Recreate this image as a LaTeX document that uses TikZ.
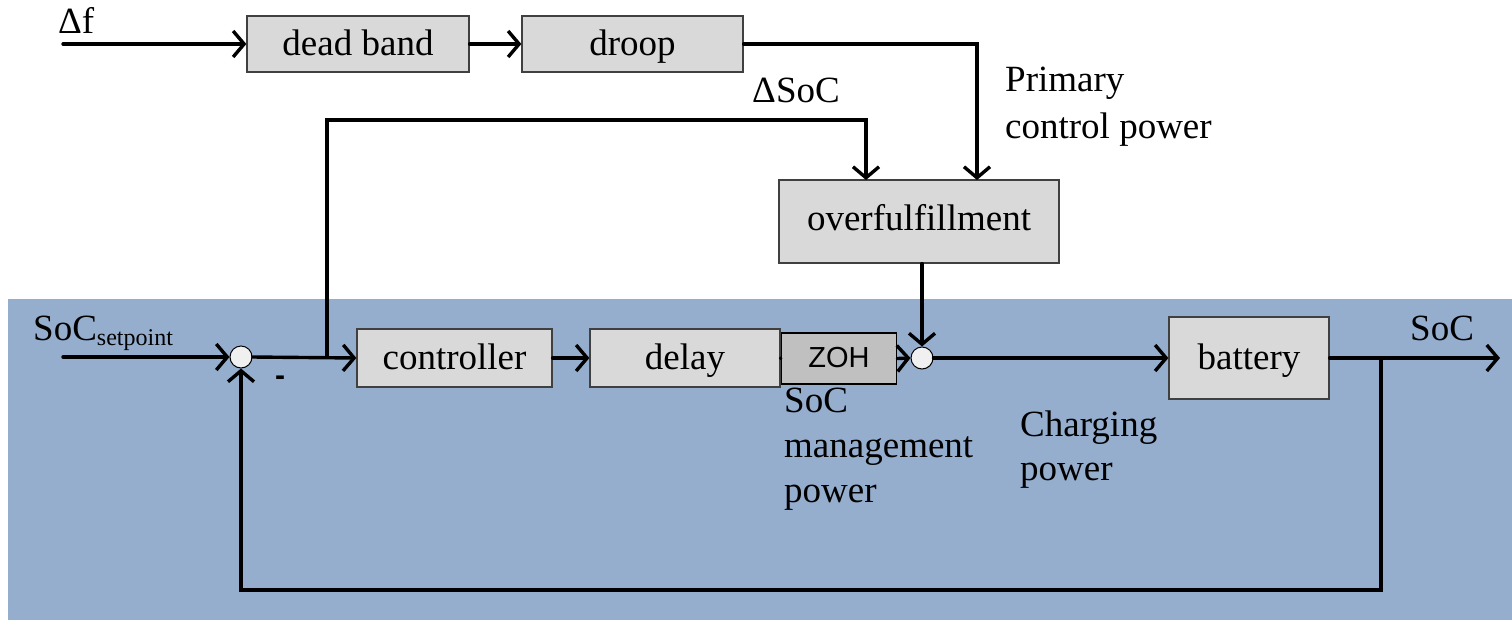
\documentclass[tikz,border=0pt]{standalone}
\usepackage{fontspec}
\setmainfont{Liberation Serif}
\newfontfamily\zohfont{Liberation Sans}
\usetikzlibrary{arrows.meta}
\definecolor{panelblue}{HTML}{95AECE}
\definecolor{boxgray}{HTML}{D9D9D9}
\definecolor{zohgray}{HTML}{C0C0C0}
\definecolor{sumwhite}{HTML}{F0F0F0}
\tikzset{
  blockbox/.style={draw=black!75, line width=1.3pt, fill=boxgray, inner sep=0pt,
    text height=25pt, text depth=2pt, font=\fontsize{37}{42}\selectfont},
  sumnode/.style={circle, draw=black, line width=1pt, fill=sumwhite, minimum size=22pt, inner sep=0pt},
  signal/.style={line width=3.4pt, line cap=round, line join=miter},
  flow/.style={signal, -{Straight Barb[length=11pt,width=26pt]}},
  lbl/.style={font=\fontsize{37}{45}\selectfont, inner sep=0pt, align=left},
}
\begin{document}
\begin{tikzpicture}[x=1pt,y=-1pt]
\useasboundingbox (0,0) rectangle (1512,622);
% lower panel
\fill[panelblue] (8,299) rectangle (1512,620);

% blocks
\node[blockbox, minimum width=222pt, minimum height=56pt] (deadband) at (358,44) {dead band};
\node[blockbox, minimum width=221pt, minimum height=56pt] (droop) at (632.5,44) {droop};
\node[blockbox, minimum width=280pt, minimum height=83pt, text depth=8pt] (overfull) at (919,221.5) {overfulfillment};
\node[blockbox, minimum width=195pt, minimum height=58pt] (controller) at (454.5,358) {controller};
\node[blockbox, minimum width=190pt, minimum height=58pt] (delay) at (685,358) {delay};
\node[draw=black, line width=1.8pt, fill=zohgray, inner sep=0pt, minimum width=115pt, minimum height=51pt,
      text height=20pt, text depth=3pt,
      font=\zohfont\fontsize{29}{32}\selectfont] (zoh) at (839,358.5) {ZOH};
\node[blockbox, minimum width=160pt, minimum height=82pt] (battery) at (1249,358) {battery};
\node[sumnode] (sum1) at (241,357) {};
\node[sumnode] (sum2) at (922,358) {};

% free ends and bends
\coordinate (fin) at (63,44);
\coordinate (spin) at (63,357);
\coordinate (socout) at (1500,358);
\coordinate (tap) at (327,357);
\coordinate (fbtap) at (1381,358);

% frequency path
\draw[flow] (fin) -- (deadband.west);
\draw[flow] (deadband.east) -- (droop.west);
\draw[flow] (droop.east) -| (977,180);
\draw[flow] (tap) |- (866,120) -- (866,180);
\draw[flow] (sum2.north |- overfull.south) -- (sum2.north);

% main loop
\draw[flow] (spin) -- (sum1.west);
\draw[flow] (sum1.east) -- (controller.west);
\draw[flow] (controller.east) -- (delay.west);
\draw[signal] (delay.east) -- (zoh.west);
\draw[flow] (zoh.east) -- (sum2.west);
\draw[flow] (sum2.east) -- (battery.west);
\draw[flow] (battery.east) -- (socout);
\draw[flow] (fbtap) -- (1381,590) -| (sum1.south);

% labels (multi-line labels are anchored at the baseline of their last line)
\node[lbl, anchor=base west] (lf) at (58,33) {Δf};
\node[lbl, anchor=base west] (ldsoc) at (752,102) {ΔSoC};
\node[lbl, anchor=base west, font=\fontsize{37}{47}\selectfont] (lprim) at (1005,138) {Primary\\control power};
\node[lbl, anchor=base west] (lsp) at (33,340) {SoC\raisebox{-5pt}{\fontsize{24}{24}\selectfont setpoint}};
\node[lbl, anchor=base west] (lsoc) at (1410,340) {SoC};
\node[lbl, anchor=base west] (lmgmt) at (784,502) {SoC\\management\\power};
\node[lbl, anchor=base west, font=\fontsize{37}{44}\selectfont] (lchg) at (1020,480) {Charging\\power};
\node[font=\zohfont\bfseries\fontsize{30}{30}\selectfont, inner sep=0pt] (lminus) at (280,381) {-};
\end{tikzpicture}
\end{document}
